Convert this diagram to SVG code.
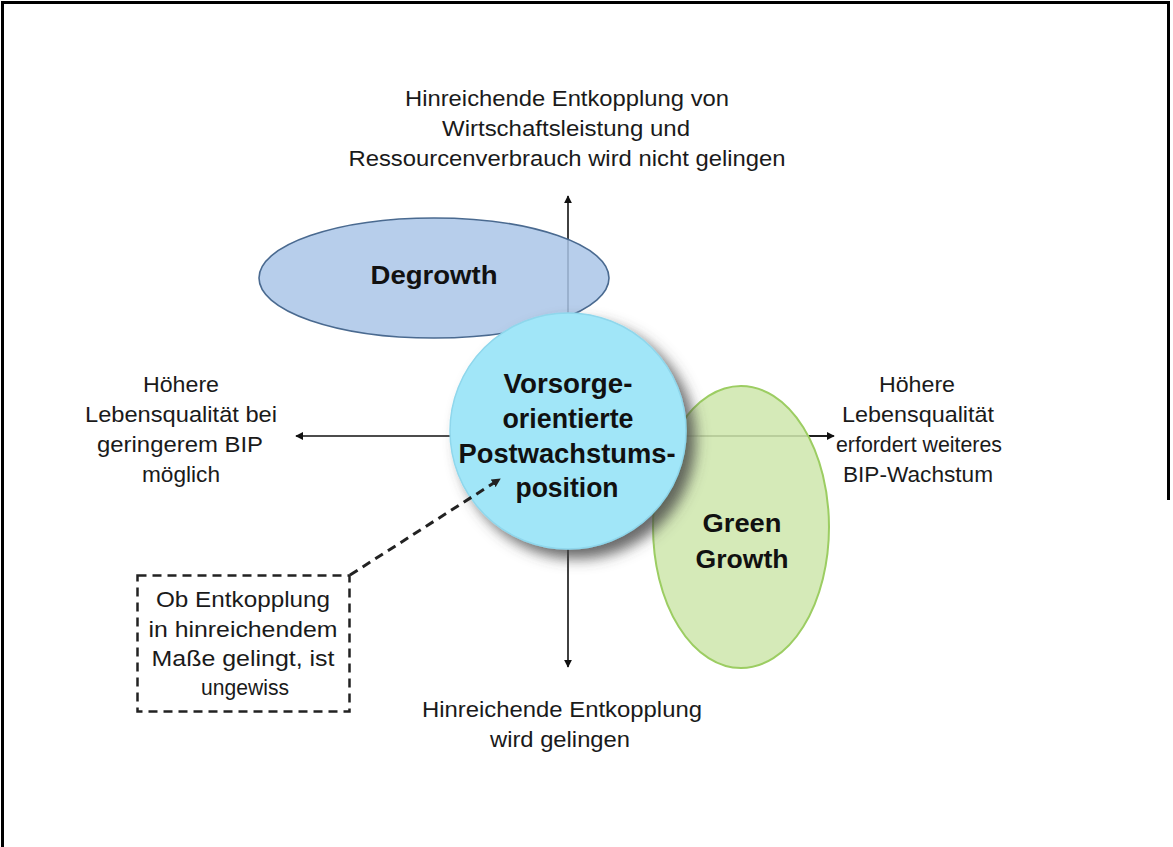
<svg xmlns="http://www.w3.org/2000/svg" width="1173" height="847" viewBox="0 0 1173 847">
<style>
.lbl{font-family:"Liberation Sans",Arial,sans-serif;font-size:22px;fill:#1a1a1a;text-anchor:middle}
.bold{font-family:"Liberation Sans",Arial,sans-serif;font-weight:bold;fill:#111;text-anchor:middle}
.axis{stroke:#111;stroke-width:1.6;fill:none}
</style>
<defs>
<marker id="ah" viewBox="0 0 10 10" refX="9" refY="5" markerWidth="5" markerHeight="5" orient="auto" markerUnits="strokeWidth">
<path d="M0,0 L10,5 L0,10 z" fill="#111"/>
</marker>
<marker id="ahd" viewBox="0 0 10 10" refX="9" refY="5" markerWidth="3" markerHeight="3" orient="auto" markerUnits="strokeWidth">
<path d="M0,0 L10,5 L0,10 z" fill="#222"/>
</marker>
<filter id="shadow" x="-20%" y="-20%" width="150%" height="150%">
<feGaussianBlur in="SourceAlpha" stdDeviation="7"/>
<feOffset dx="9" dy="9" result="b"/>
<feFlood flood-color="#444" flood-opacity="0.8"/>
<feComposite in2="b" operator="in"/>
<feMerge><feMergeNode/><feMergeNode in="SourceGraphic"/></feMerge>
</filter>
</defs>
<rect width="1173" height="847" fill="#fff"/>
<path d="M2.5,847 V2.5 H1168.5 V500" fill="none" stroke="#000" stroke-width="3"/>

<g id="connectors">
<line class="axis" x1="568" y1="660" x2="568" y2="196" marker-end="url(#ah)"/>
<line class="axis" x1="568" y1="660" x2="568" y2="667" marker-end="url(#ah)"/>
<line class="axis" x1="832" y1="436" x2="296" y2="436" marker-end="url(#ah)"/>
<line class="axis" x1="700" y1="436" x2="834" y2="436" marker-end="url(#ah)"/>
</g>

<g id="degrowth">
<ellipse cx="434" cy="278" rx="175" ry="60" fill="#aac6e8" fill-opacity="0.85" stroke="#4a6a90" stroke-width="1.6"/>
<text class="bold" x="434" y="284" font-size="25" textLength="127" lengthAdjust="spacingAndGlyphs">Degrowth</text>
</g>

<g id="green-growth">
<ellipse cx="741" cy="527" rx="88" ry="141" fill="#cfe7ae" fill-opacity="0.88" stroke="#9ccd62" stroke-width="2"/>
<text class="bold" x="742" y="532" font-size="25" textLength="79" lengthAdjust="spacingAndGlyphs">Green</text>
<text class="bold" x="742" y="568" font-size="25" textLength="93" lengthAdjust="spacingAndGlyphs">Growth</text>
</g>

<g id="center">
<circle cx="568" cy="431" r="118" fill="#a1e6f8" stroke="#8fd7ec" stroke-width="1.5" filter="url(#shadow)"/>
<text class="bold" x="568" y="393" font-size="27" textLength="129" lengthAdjust="spacingAndGlyphs">Vorsorge-</text>
<text class="bold" x="568" y="428" font-size="27" textLength="131" lengthAdjust="spacingAndGlyphs">orientierte</text>
<text class="bold" x="567" y="463" font-size="27" textLength="217" lengthAdjust="spacingAndGlyphs">Postwachstums-</text>
<text class="bold" x="567" y="497" font-size="27" textLength="103" lengthAdjust="spacingAndGlyphs">position</text>
</g>

<g id="note-connector">
<line x1="350" y1="575" x2="500" y2="479" stroke="#222" stroke-width="3" stroke-dasharray="9,6" marker-end="url(#ahd)"/>
</g>

<g id="note">
<rect x="137.5" y="575.5" width="212" height="136" fill="#fff" stroke="#222" stroke-width="2.5" stroke-dasharray="9,6"/>
<text class="lbl" x="243" y="607" textLength="174" lengthAdjust="spacingAndGlyphs">Ob Entkopplung</text>
<text class="lbl" x="243" y="637" textLength="189" lengthAdjust="spacingAndGlyphs">in hinreichendem</text>
<text class="lbl" x="243" y="666" textLength="183" lengthAdjust="spacingAndGlyphs">Maße gelingt, ist</text>
<text class="lbl" x="245" y="695" textLength="88" lengthAdjust="spacingAndGlyphs">ungewiss</text>
</g>

<g id="label-top">
<text class="lbl" x="567" y="106" textLength="324" lengthAdjust="spacingAndGlyphs">Hinreichende Entkopplung von</text>
<text class="lbl" x="566" y="136" textLength="248" lengthAdjust="spacingAndGlyphs">Wirtschaftsleistung und</text>
<text class="lbl" x="567" y="166" textLength="437" lengthAdjust="spacingAndGlyphs">Ressourcenverbrauch wird nicht gelingen</text>
</g>

<g id="label-left">
<text class="lbl" x="181" y="392" textLength="76" lengthAdjust="spacingAndGlyphs">Höhere</text>
<text class="lbl" x="181" y="422" textLength="192" lengthAdjust="spacingAndGlyphs">Lebensqualität bei</text>
<text class="lbl" x="180" y="452" textLength="166" lengthAdjust="spacingAndGlyphs">geringerem BIP</text>
<text class="lbl" x="181" y="482" textLength="78" lengthAdjust="spacingAndGlyphs">möglich</text>
</g>

<g id="label-right">
<text class="lbl" x="917" y="392" textLength="76" lengthAdjust="spacingAndGlyphs">Höhere</text>
<text class="lbl" x="918" y="422" textLength="152" lengthAdjust="spacingAndGlyphs">Lebensqualität</text>
<text class="lbl" x="919" y="452" textLength="166" lengthAdjust="spacingAndGlyphs">erfordert weiteres</text>
<text class="lbl" x="918" y="482" textLength="150" lengthAdjust="spacingAndGlyphs">BIP-Wachstum</text>
</g>

<g id="label-bottom">
<text class="lbl" x="562" y="717" textLength="280" lengthAdjust="spacingAndGlyphs">Hinreichende Entkopplung</text>
<text class="lbl" x="560" y="747" textLength="140" lengthAdjust="spacingAndGlyphs">wird gelingen</text>
</g>
</svg>
